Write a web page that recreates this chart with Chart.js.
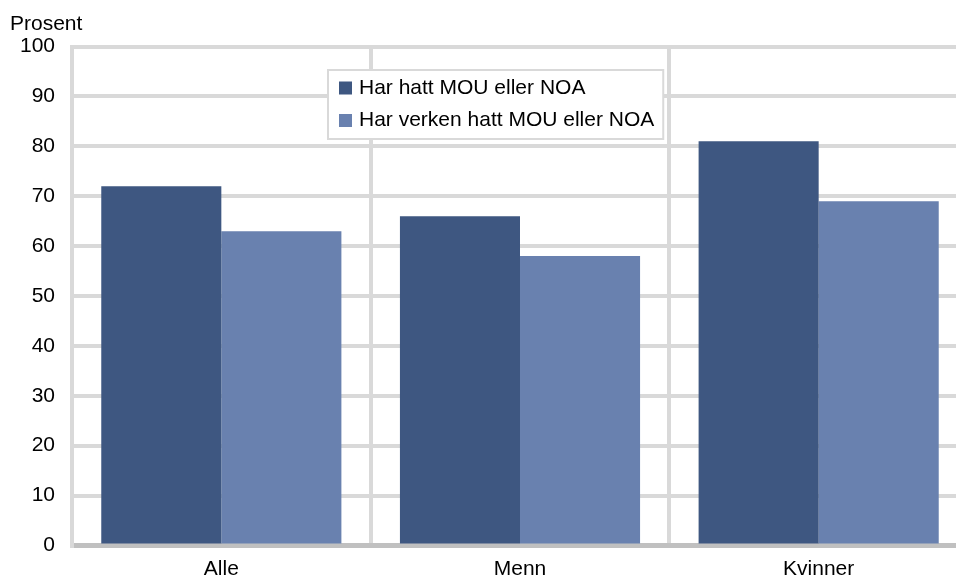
<!DOCTYPE html>
<html>
<head>
<meta charset="utf-8">
<script src="https://cdn.jsdelivr.net/npm/chart.js@4"></script>
<style>
    html, body { margin: 0; padding: 0; background: #fff; overflow: hidden; }
    .wrap { width: 956px; height: 578px; overflow: hidden; }
</style>
</head>
<body>
<div class="wrap">
    <canvas id="chart" width="968" height="578"></canvas>
</div>
<script>
const categories = ["Alle", "Menn", "Kvinner"];
const seriesNames = ["Har hatt MOU eller NOA", "Har verken hatt MOU eller NOA"];
const hadMouNoa = [72, 66, 81];
const neitherMouNoa = [63, 58, 69];
const yTicks = [0, 10, 20, 30, 40, 50, 60, 70, 80, 90, 100];
const yAxisTitle = "Prosent";

const FONT = "'Liberation Sans', Arial, sans-serif";
const gridGrey = "#d9d9d9";

// boxed legend inside the plot + unit label top left
const boxLegend = {
    id: "boxLegend",
    afterDatasetsDraw(chart) {
        const ctx = chart.ctx;
        ctx.save();
        ctx.font = "21px " + FONT;
        ctx.textBaseline = "middle";
        ctx.textAlign = "left";

        const widths = chart.data.datasets.map(ds => ctx.measureText(ds.label).width);
        const x = 328, y = 70, h = 69;
        const w = 31 + Math.max(...widths) + 9;

        ctx.fillStyle = "#fff";
        ctx.fillRect(x, y, w, h);
        ctx.strokeStyle = gridGrey;
        ctx.lineWidth = 2;
        ctx.strokeRect(x, y, w, h);

        chart.data.datasets.forEach((ds, i) => {
            const cy = y + 18 + i * 32.5;
            ctx.fillStyle = ds.backgroundColor;
            ctx.fillRect(x + 11, cy - 6.5, 13, 13);
            ctx.fillStyle = "#000";
            ctx.fillText(ds.label, x + 31, cy);
        });

        ctx.textBaseline = "alphabetic";
        ctx.fillText(yAxisTitle, 10, 30);
        ctx.restore();
    },
};

new Chart(document.getElementById("chart"), {
    type: "bar",
    data: {
        labels: categories,
        datasets: [
            {
                label: seriesNames[0],
                data: hadMouNoa,
                backgroundColor: "#3e5781",
            },
            {
                label: seriesNames[1],
                data: neitherMouNoa,
                backgroundColor: "#6981af",
            },
        ],
    },
    options: {
        responsive: false,
        animation: false,
        devicePixelRatio: 1,
        categoryPercentage: 0.804,
        barPercentage: 1,
        layout: {
            padding: { top: 46.5, left: 0, right: 0, bottom: 0 },
        },
        plugins: {
            legend: { display: false },
            tooltip: { enabled: false },
        },
        scales: {
            x: {
                grid: {
                    color: gridGrey,
                    lineWidth: 4,
                    drawTicks: false,
                    offset: true,
                },
                border: { display: true, color: "#c0c0c0", width: 5 },
                ticks: {
                    color: "#000",
                    font: { size: 21, family: FONT },
                    padding: 11,
                },
                afterFit(scale) {
                    scale.height = 32.5;
                },
            },
            y: {
                min: 0,
                max: 100,
                afterBuildTicks(scale) {
                    scale.ticks = yTicks.map(v => ({ value: v }));
                },
                grid: {
                    color: gridGrey,
                    lineWidth: 4,
                    drawTicks: false,
                },
                border: { display: true, color: gridGrey, width: 4 },
                ticks: {
                    color: "#000",
                    font: { size: 21, family: FONT },
                    padding: 17,
                },
                afterFit(scale) {
                    scale.width = 72;
                },
            },
        },
    },
    plugins: [boxLegend],
});
</script>
</body>
</html>
